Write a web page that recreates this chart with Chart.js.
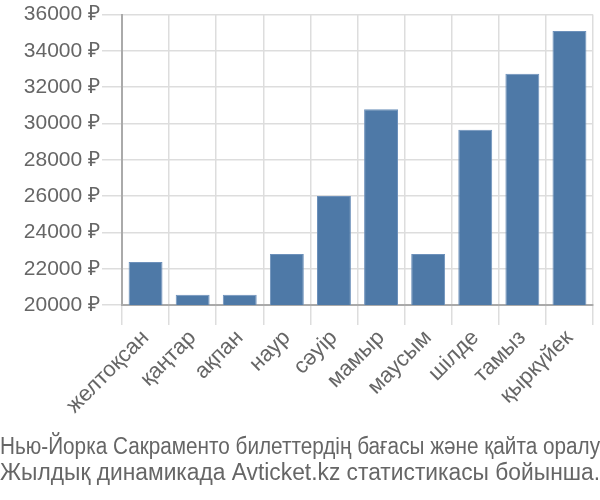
<!DOCTYPE html>
<html>
<head>
<meta charset="utf-8">
<script src="https://cdn.jsdelivr.net/npm/chart.js@4"></script>
<style>
html,body{margin:0;padding:0;background:#fff;}
#wrap{width:600px;height:500px;}
</style>
</head>
<body>
<div id="wrap"><canvas id="c" width="600" height="500"></canvas></div>
<script>
const categories = ["желтоқсан","қаңтар","ақпан","наур","сәуір","мамыр","маусым","шілде","тамыз","қыркүйек"];
const prices = [22370, 20560, 20560, 22810, 26000, 30790, 22810, 29650, 32740, 35100];
const yTicks = [20000, 22000, 24000, 26000, 28000, 30000, 32000, 34000, 36000];
const titleLines = ["Нью-Йорка Сакраменто билеттердің бағасы және қайта оралу", "Жылдық динамикада Avticket.kz статистикасы бойынша."];

const FONT = "'Liberation Sans', Arial, sans-serif";
new Chart(document.getElementById('c'), {
  type: 'bar',
  data: {
    labels: categories,
    datasets: [{
      data: prices,
      backgroundColor: '#4e79a7',
      borderColor: '#6d91bb',
      borderWidth: 1
    }]
  },
  options: {
    responsive: false,
    animation: false,
    layout: { padding: { top: 14, right: 0, left: 0, bottom: 13 } },
    plugins: {
      legend: { display: false },
      tooltip: { enabled: false },
      title: {
        display: true,
        position: 'bottom',
        text: titleLines,
        color: '#666',
        font: { family: FONT, size: 23, weight: 'normal', lineHeight: 1.13 },
        padding: { top: 0, bottom: 0 }
      }
    },
    scales: {
      x: {
        offset: true,
        grid: { color: '#dddddd', lineWidth: 1.5, offset: true, tickLength: 20 },
        border: { color: '#aaaaaa', width: 2 },
        ticks: {
          color: '#666',
          font: { family: FONT, size: 22 },
          minRotation: 45, maxRotation: 45,
          padding: 0
        },
        afterFit: (s) => { s.height = 130; }
      },
      y: {
        min: 20000, max: 36000,
        grid: { color: '#dddddd', lineWidth: 1.5, tickLength: 20 },
        border: { color: '#aaaaaa', width: 2 },
        afterBuildTicks: (s) => { s.ticks = yTicks.map(v => ({ value: v })); },
        ticks: {
          color: '#666',
          font: { family: FONT, size: 21 },
          padding: 2,
          callback: (v) => v + ' ₽'
        },
        afterFit: (s) => { s.width = 122; }
      },
      spacer: {
        position: 'right',
        display: true,
        grid: { display: false, drawTicks: false },
        border: { display: false },
        ticks: { display: false },
        afterFit: (s) => { s.width = 7; }
      }
    }
  }
});
</script>
</body>
</html>
